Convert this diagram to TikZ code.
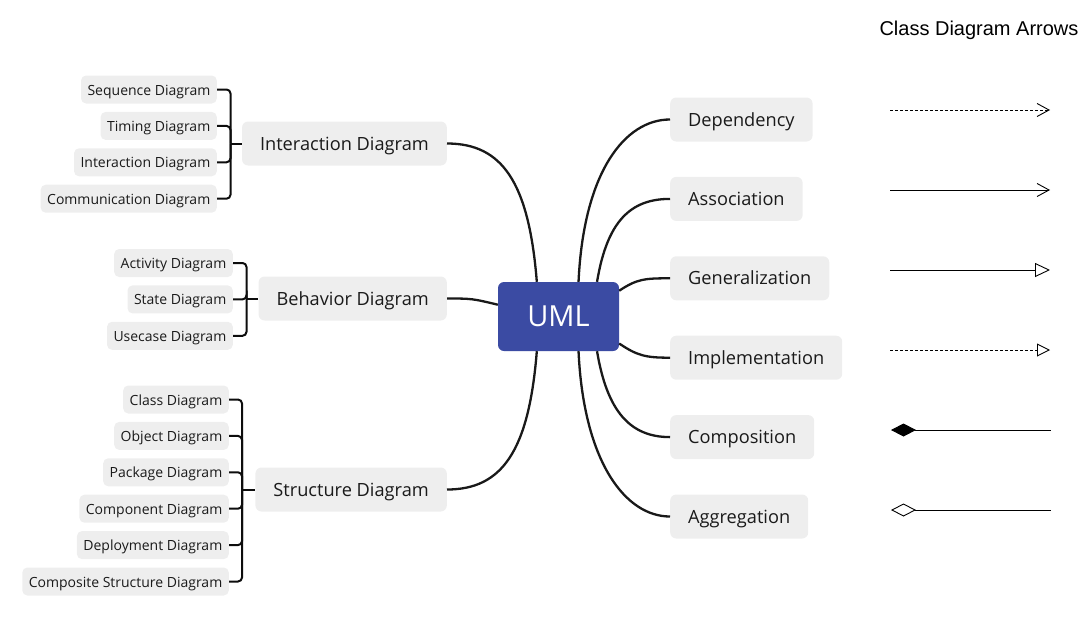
\documentclass[tikz,border=0pt]{standalone}
\usepackage{fontspec}
\setmainfont{Open Sans}
\newfontfamily\titlefont{Liberation Sans}
\usepackage{xcolor}
\usetikzlibrary{arrows.meta, positioning}
\definecolor{boxgray}{HTML}{EEEEEE}
\definecolor{umlblue}{HTML}{3B4BA3}
\definecolor{textdark}{HTML}{1A1A1A}

\begin{document}
\begin{tikzpicture}[x=1pt, y=-1pt,
    topic/.style={fill=boxgray, rounded corners=6pt, minimum height=44pt, inner xsep=18pt, text height=13pt, text depth=0pt, font=\fontsize{18.2}{21}\selectfont, text=textdark},
    leaf/.style={fill=boxgray, rounded corners=5pt, minimum height=28pt, inner xsep=6.5pt, text height=11pt, text depth=0pt, font=\fontsize{14}{16}\selectfont, text=textdark},
    branch/.style={line width=2.3pt, draw=black!90},
    bracket/.style={line width=2pt, draw=black!95, rounded corners=4pt},
    rel/.style={line width=0.9pt}
]
\useasboundingbox (0,0) rectangle (1081,624);

% central topic
\node[fill=umlblue, rounded corners=6pt, minimum width=121pt, minimum height=69pt, text=white, font=\fontsize{29}{32}\selectfont] (uml) at (558.5,316.5) {UML};

% left side
\node[topic, anchor=east] (inter) at (447,143.5) {Interaction Diagram};
\node[topic, anchor=east] (behav) at (447,298.5) {Behavior Diagram};
\node[topic, anchor=east] (struct) at (447,489.5) {Structure Diagram};

\node[leaf, anchor=east] (seq) at (217,89.5) {Sequence Diagram};
\node[leaf, below=8pt of seq.south east, anchor=north east] (tim) {Timing Diagram};
\node[leaf, below=8pt of tim.south east, anchor=north east] (iad) {Interaction Diagram};
\node[leaf, below=8pt of iad.south east, anchor=north east] (com) {Communication Diagram};

\node[leaf, anchor=east] (act) at (233,263) {Activity Diagram};
\node[leaf, below=8pt of act.south east, anchor=north east] (sta) {State Diagram};
\node[leaf, below=8pt of sta.south east, anchor=north east] (use) {Usecase Diagram};

\node[leaf, anchor=east] (cla) at (229,399.5) {Class Diagram};
\node[leaf, below=8pt of cla.south east, anchor=north east] (obj) {Object Diagram};
\node[leaf, below=8pt of obj.south east, anchor=north east] (pac) {Package Diagram};
\node[leaf, below=8pt of pac.south east, anchor=north east] (cmp) {Component Diagram};
\node[leaf, below=8pt of cmp.south east, anchor=north east] (dpl) {Deployment Diagram};
\node[leaf, below=8pt of dpl.south east, anchor=north east] (csd) {Composite Structure Diagram};

% brackets
\coordinate (interJ) at (230.5,143.5);
\coordinate (behavJ) at (246.5,298.5);
\coordinate (structJ) at (242,489.5);
\foreach \n in {seq,tim,iad,com} \draw[bracket] (\n.east) -| (interJ);
\foreach \n in {act,sta,use} \draw[bracket] (\n.east) -| (behavJ);
\foreach \n in {cla,obj,pac,cmp,dpl,csd} \draw[bracket] (\n.east) -| (structJ);
\draw[bracket] (interJ) -- (inter.west);
\draw[bracket] (behavJ) -- (behav.west);
\draw[bracket] (structJ) -- (struct.west);

% right side
\node[topic, anchor=west] (dep) at (670,119.5) {Dependency};
\node[topic, below=35pt of dep.south west, anchor=north west] (ass) {Association};
\node[topic, below=35pt of ass.south west, anchor=north west] (gen) {Generalization};
\node[topic, below=35pt of gen.south west, anchor=north west] (imp) {Implementation};
\node[topic, below=35pt of imp.south west, anchor=north west] (cps) {Composition};
\node[topic, below=35pt of cps.south west, anchor=north west] (agg) {Aggregation};

% branches
\draw[branch] (uml.122) .. controls +(-8,-100) and +(55,0) .. (inter.east);
\draw[branch] (uml.169) .. controls +(-25,-6) and +(25,0) .. (behav.east);
\draw[branch] (uml.238) .. controls +(-8,100) and +(55,0) .. (struct.east);
\draw[branch] (uml.60) .. controls +(5,-110) and +(-45,0) .. (dep.west);
\draw[branch] (uml.42) .. controls +(10,-60) and +(-40,0) .. (ass.west);
\draw[branch] (uml.23) .. controls +(18,-12) and +(-25,0) .. (gen.west);
\draw[branch] (uml.-24) .. controls +(18,12) and +(-25,0) .. (imp.west);
\draw[branch] (uml.-42) .. controls +(10,60) and +(-40,0) .. (cps.west);
\draw[branch] (uml.-60) .. controls +(5,110) and +(-45,0) .. (agg.west);

% arrow legend
\node[font=\titlefont\fontsize{20}{23}\selectfont] (title) at (979,30) {Class Diagram Arrows};
\coordinate (depA) at (890,110);  \coordinate (depB) at (1050,110);
\coordinate (assA) at (890,190);  \coordinate (assB) at (1050,190);
\coordinate (genA) at (890,270);  \coordinate (genB) at (1050,270);
\coordinate (impA) at (890,350);  \coordinate (impB) at (1050,350);
\coordinate (cpsA) at (891,430);  \coordinate (cpsB) at (1051,430);
\coordinate (aggA) at (891,510);  \coordinate (aggB) at (1051,510);
\draw[rel, dash pattern=on 3pt off 2pt, -{Straight Barb[length=12pt, width=13pt]}] (depA) -- (depB);
\draw[rel, -{Straight Barb[length=12pt, width=13pt]}] (assA) -- (assB);
\draw[rel, -{Triangle[open, fill=white, length=15pt, width=14pt]}] (genA) -- (genB);
\draw[rel, dash pattern=on 3pt off 2pt, -{Triangle[open, fill=white, length=13pt, width=13pt]}] (impA) -- (impB);
\draw[rel, {Diamond[length=25pt, width=13pt]}-] (cpsA) -- (cpsB);
\draw[rel, {Diamond[open, fill=white, length=25pt, width=13pt]}-] (aggA) -- (aggB);
\end{tikzpicture}
\end{document}
